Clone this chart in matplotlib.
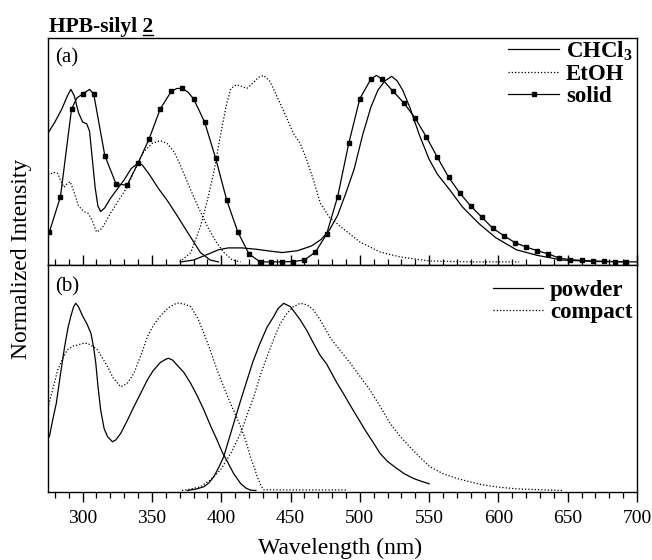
import matplotlib
matplotlib.use("Agg")
import matplotlib.pyplot as plt
from matplotlib.lines import Line2D
from matplotlib.ticker import MultipleLocator

plt.rcParams.update({
    "font.family": "Liberation Serif",
    "mathtext.fontset": "custom",
    "mathtext.rm": "Liberation Serif",
    "mathtext.bf": "Liberation Serif:bold",
    "axes.linewidth": 1.0,
})

# ---- (a) CHCl3 : absorcion + emision ----
chcl3_abs_x = [275, 280, 285, 289, 291.5, 294, 297, 300, 303, 305, 307, 309, 311, 313, 316,
               320, 325, 330, 335, 340, 343, 348, 355, 361, 368, 376, 385, 392, 398]
chcl3_abs_y = [0.69, 0.75, 0.82, 0.89, 0.925, 0.89, 0.80, 0.75, 0.74, 0.70, 0.55, 0.40, 0.30, 0.27, 0.29,
               0.34, 0.39, 0.44, 0.50, 0.53, 0.52, 0.47, 0.39, 0.33, 0.25, 0.155, 0.05, 0.01, 0.0]
chcl3_em_x = [371, 380, 390, 398, 405, 415, 425, 435, 444, 455, 465, 472, 478, 484, 490, 496, 502,
              508, 513, 518, 523, 527, 531, 536, 543, 550, 556, 565, 574, 586, 598, 613, 628, 646, 670, 700]
chcl3_em_y = [0.0, 0.01, 0.04, 0.065, 0.075, 0.075, 0.068, 0.058, 0.05, 0.06, 0.085, 0.12, 0.17, 0.25,
              0.37, 0.50, 0.68, 0.83, 0.92, 0.97, 0.995, 0.97, 0.92, 0.83, 0.68, 0.55, 0.47, 0.385,
              0.295, 0.205, 0.13, 0.065, 0.035, 0.01, 0.002, 0.0]

# ---- (a) EtOH ----
etoh_abs_x = [275, 279, 282, 284.5, 286.5, 289, 291, 294, 297, 301, 304, 307, 310, 314, 320, 326,
              332, 338, 344, 350, 356, 361, 366, 371, 376, 383, 390, 396, 402, 408, 414]
etoh_abs_y = [0.465, 0.48, 0.475, 0.43, 0.40, 0.42, 0.43, 0.37, 0.30, 0.27, 0.26, 0.22, 0.16, 0.18,
              0.26, 0.33, 0.40, 0.50, 0.59, 0.635, 0.65, 0.635, 0.59, 0.51, 0.42, 0.30, 0.19, 0.11,
              0.05, 0.01, 0.0]
etoh_em_x = [370, 378, 385, 390, 394.5, 398, 401, 404, 407, 411, 415, 418.5, 423, 427, 430.5, 435,
             440, 445, 452, 457, 462, 466.5, 471.5, 478, 486, 500, 514.5, 529, 550, 580, 615]
etoh_em_y = [0.0, 0.05, 0.19, 0.33, 0.475, 0.62, 0.74, 0.85, 0.93, 0.95, 0.94, 0.93, 0.96, 0.99, 1.0,
             0.97, 0.89, 0.81, 0.69, 0.635, 0.54, 0.44, 0.315, 0.24, 0.19, 0.107, 0.053, 0.027,
             0.005, 0.0, 0.0]

# ---- (a) solido (marcadores cada 8 nm) ----
solid_x = [276, 284, 292, 296, 300, 305, 308, 316, 324, 332, 340, 348, 356, 364, 368, 372, 376, 380,
           388, 396, 404, 412, 420, 428, 436, 444, 452, 460, 468, 476, 484, 492, 500, 508, 512, 516,
           524, 532, 540, 548, 556, 564, 572, 580, 588, 596, 604, 612, 620, 628, 636, 644, 652, 660,
           668, 676, 684, 692]
solid_y = [0.16, 0.35, 0.82, 0.88, 0.90, 0.925, 0.90, 0.57, 0.42, 0.41, 0.53, 0.66, 0.82, 0.915, 0.93,
           0.93, 0.91, 0.875, 0.75, 0.555, 0.33, 0.16, 0.043, 0.0, 0.0, 0.0, 0.002, 0.01, 0.053, 0.148,
           0.35, 0.635, 0.875, 0.98, 1.0, 0.98, 0.915, 0.85, 0.77, 0.67, 0.56, 0.455, 0.37, 0.30,
           0.24, 0.18, 0.14, 0.103, 0.08, 0.06, 0.043, 0.02, 0.012, 0.008, 0.005, 0.003, 0.002, 0.0]

# ---- (b) polvo ----
powder_abs_x = [276, 278.5, 281, 284, 287, 289.5, 291.5, 293.5, 295, 297, 300, 303, 306, 308, 309.5,
                311, 313, 315.5, 318, 321.5, 324, 327.5, 332, 337, 342, 346.7, 351, 356, 360, 362,
                365, 368, 373, 378, 383, 387.5, 392, 397, 401, 404, 409, 414, 418, 421, 425]
powder_abs_y = [0.287, 0.38, 0.465, 0.62, 0.767, 0.87, 0.93, 0.98, 0.998, 0.98, 0.93, 0.89, 0.838,
                0.76, 0.678, 0.56, 0.43, 0.33, 0.287, 0.26, 0.27, 0.305, 0.37, 0.447, 0.52, 0.59,
                0.64, 0.682, 0.70, 0.705, 0.695, 0.67, 0.63, 0.571, 0.50, 0.429, 0.35, 0.269, 0.20,
                0.16, 0.09, 0.037, 0.012, 0.002, 0.0]
powder_em_x = [375.5, 382, 387.5, 391, 394.6, 398, 401.8, 405, 409, 414, 418.7, 423, 428, 433, 437.8,
               441, 445, 450, 453, 457, 462, 466.6, 471, 476, 478.6, 483, 488, 493, 498, 504, 510,
               514.6, 520, 526.6, 532, 538.5, 544, 550]
powder_em_y = [0.0, 0.008, 0.02, 0.04, 0.073, 0.12, 0.18, 0.26, 0.358, 0.48, 0.59, 0.69, 0.785, 0.87,
               0.927, 0.97, 0.998, 0.98, 0.95, 0.91, 0.85, 0.785, 0.725, 0.675, 0.64, 0.58, 0.519,
               0.455, 0.394, 0.32, 0.252, 0.198, 0.155, 0.118, 0.09, 0.065, 0.05, 0.036]

# ---- (b) compacto ----
compact_abs_x = [275, 277, 282, 286, 289, 293, 296.4, 300, 303.5, 307, 310.7, 314, 318, 322, 327.5,
                 332, 337, 342, 346.7, 351, 356, 362, 368, 373, 378, 383, 387.5, 392, 397, 402,
                 406.6, 410, 414, 418, 421, 424, 426, 428.5, 430.5, 450, 490]
compact_abs_y = [0.44, 0.50, 0.643, 0.71, 0.75, 0.77, 0.776, 0.784, 0.785, 0.77, 0.75, 0.71, 0.66,
                 0.60, 0.553, 0.57, 0.625, 0.72, 0.82, 0.88, 0.93, 0.975, 1.0, 0.995, 0.98, 0.92,
                 0.838, 0.75, 0.643, 0.55, 0.465, 0.41, 0.34, 0.26, 0.18, 0.12, 0.073, 0.03, 0.004,
                 0.003, 0.003]
compact_em_x = [371.7, 378, 385, 392, 399.5, 407, 414, 418.5, 423.5, 428, 433, 438, 442.6, 447, 452,
                457, 462, 466.6, 471, 476, 478.6, 486, 493, 500, 507.4, 515, 521.8, 529, 536, 543,
                550.5, 560, 569.7, 580, 589, 600, 613, 630, 646.5]
compact_em_y = [0.0, 0.008, 0.02, 0.055, 0.11, 0.2, 0.305, 0.4, 0.5, 0.61, 0.713, 0.81, 0.89, 0.94,
                0.98, 0.998, 0.99, 0.962, 0.915, 0.85, 0.815, 0.745, 0.68, 0.61, 0.535, 0.445, 0.358,
                0.29, 0.233, 0.18, 0.127, 0.09, 0.065, 0.045, 0.03, 0.018, 0.009, 0.004, 0.0]

LW = 0.9
DOT = (0, (1, 1.6))
LEG = {"family": "Liberation Serif", "weight": "bold", "size": 16.5}

fig = plt.figure(figsize=(6.52, 5.6), dpi=100)
ax1 = fig.add_axes([0.0736, 0.527, 0.9034, 0.406])
ax2 = fig.add_axes([0.0736, 0.1214, 0.9034, 0.4056])

# panel (a)
ax1.plot(chcl3_abs_x, chcl3_abs_y, "-", color="k", lw=LW, label="CHCl$_\\mathbf{3}$")
ax1.plot(chcl3_em_x, chcl3_em_y, "-", color="k", lw=LW)
ax1.plot(etoh_abs_x, etoh_abs_y, ls=DOT, color="k", lw=LW, label="EtOH")
ax1.plot(etoh_em_x, etoh_em_y, ls=DOT, color="k", lw=LW)
marks = [i for i, l in enumerate(solid_x) if (l - 276) % 8 == 0]
ax1.plot(solid_x, solid_y, "-s", color="k", lw=LW, ms=3.2, markevery=marks, label="solid")

# panel (b)
ax2.plot(powder_abs_x, powder_abs_y, "-", color="k", lw=LW, label="powder")
ax2.plot(powder_em_x, powder_em_y, "-", color="k", lw=LW)
ax2.plot(compact_abs_x, compact_abs_y, ls=DOT, color="k", lw=LW, label="compact")
ax2.plot(compact_em_x, compact_em_y, ls=DOT, color="k", lw=LW)

for ax, ytop in ((ax1, 1.035), (ax2, 0.975)):
    ax.set_xlim(275, 700)
    ax.xaxis.set_major_locator(MultipleLocator(50))
    ax.xaxis.set_minor_locator(MultipleLocator(10))
    ax.set_yticks([])
    ax.legend(loc="upper right", bbox_to_anchor=(1.008, ytop), frameon=False, numpoints=1,
              handlelength=2.2, handletextpad=0.3, labelspacing=0.05, borderaxespad=0.0,
              prop=LEG)

ax1.set_ylim(-0.016, 1.203)
ax2.set_ylim(-0.008, 1.203)
ax1.tick_params(axis="x", which="both", direction="in", top=False, labelbottom=False)
ax1.tick_params(axis="x", which="major", length=7, width=1.0)
ax1.tick_params(axis="x", which="minor", length=4, width=0.9)
ax2.tick_params(axis="x", which="both", direction="out", top=False)
ax2.tick_params(axis="x", which="major", length=7, width=1.0, labelsize=14, pad=6)
ax2.tick_params(axis="x", which="minor", length=4, width=0.9)

fig.text(55 / 652, 1 - 58 / 560, "(a)", fontsize=15, va="center")
fig.text(55 / 652, 1 - 287 / 560, "(b)", fontsize=15, va="center")
fig.text(22 / 652, 1 - 259 / 560, "Normalized Intensity", fontsize=17, rotation=90,
         ha="center", va="center")
fig.text(340 / 652, 1 - 548 / 560, "Wavelength (nm)", fontsize=17, ha="center", va="center")

# titulo con el "2" subrayado
title = fig.text(49 / 652, 1 - 32 / 560, "HPB-silyl 2", fontsize=15.5, fontweight="bold",
                 va="baseline")
fig.canvas.draw()
r = fig.canvas.get_renderer()
bb = title.get_window_extent(r)
probe = fig.text(0, 0, "2", fontsize=15.5, fontweight="bold")
w2 = probe.get_window_extent(r).width
probe.remove()
ybase = (1 - 32 / 560) * fig.bbox.height
fig.add_artist(Line2D([bb.x1 - w2, bb.x1], [ybase - 3, ybase - 3], color="k", lw=1.0,
                      transform=None))

fig.savefig("out.png", dpi=100, facecolor="white")
